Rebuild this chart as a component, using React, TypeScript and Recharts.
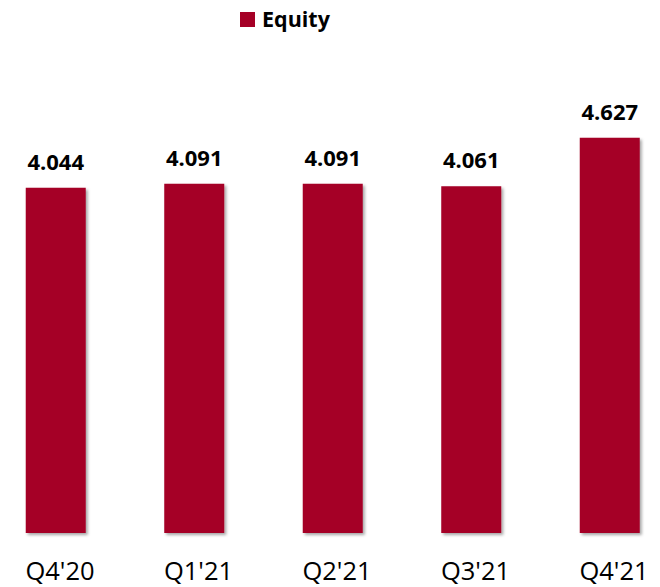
import React from 'react';
import { BarChart, Bar, XAxis, YAxis, Legend, LabelList } from 'recharts';

const categories = ["Q4'20", "Q1'21", "Q2'21", "Q3'21", "Q4'21"];
const equityValues = [4.044, 4.091, 4.091, 4.061, 4.627];
const valueLabels = ['4.044', '4.091', '4.091', '4.061', '4.627'];
const seriesName = 'Equity';

const data = categories.map((c, i) => ({ idx: i, name: c, value: equityValues[i], label: valueLabels[i] }));

const BAR_COLOR = '#A50026';
const FONT = '"Open Sans", "DejaVu Sans", sans-serif';

const LegendContent = () => (
  <div style={{ position: 'relative', width: 660, height: 30 }}>
    <div style={{ position: 'absolute', left: 240, top: 12, width: 15, height: 15, background: BAR_COLOR }} />
    <div
      style={{
        position: 'absolute',
        left: 262,
        top: 4,
        fontFamily: FONT,
        fontWeight: 700,
        fontSize: 21.5,
        lineHeight: '30px',
        color: '#000',
        whiteSpace: 'nowrap',
      }}
    >
      {seriesName}
    </div>
  </div>
);

export default function App() {
  return (
    <div style={{ position: 'absolute', left: 0, top: 0, background: '#fff' }}>
      <BarChart width={660} height={587} data={data} margin={{ top: 76, right: 0, bottom: 0, left: 0 }}>
        <defs>
          <filter id="barShadow" x="-10%" y="-5%" width="125%" height="115%">
            <feDropShadow dx="2" dy="2" stdDeviation="1.5" floodColor="#000" floodOpacity="0.35" />
          </filter>
        </defs>
        <Legend verticalAlign="top" content={<LegendContent />} wrapperStyle={{ top: 0, left: 0, width: 660, height: 30 }} />
        <XAxis
          type="number"
          dataKey="idx"
          domain={[-0.4043, 4.361]}
          ticks={[0, 1, 2, 3, 4]}
          tickFormatter={(v: number) => categories[v]}
          allowDataOverflow
          axisLine={false}
          tickLine={false}
          tickSize={6}
          tickMargin={23}
          height={54}
          tick={{ fill: '#000', fontSize: 25.5, fontFamily: FONT, dx: 4 }}
          interval={0}
        />
        <YAxis hide domain={[0, 5]} />
        <Bar dataKey="value" name={seriesName} fill={BAR_COLOR} barSize={60} isAnimationActive={false} filter="url(#barShadow)">
          <LabelList
            dataKey="label"
            position="top"
            offset={18}
            fill="#000"
            fontSize={22}
            fontWeight={700}
            fontFamily={FONT}
          />
        </Bar>
      </BarChart>
    </div>
  );
}
